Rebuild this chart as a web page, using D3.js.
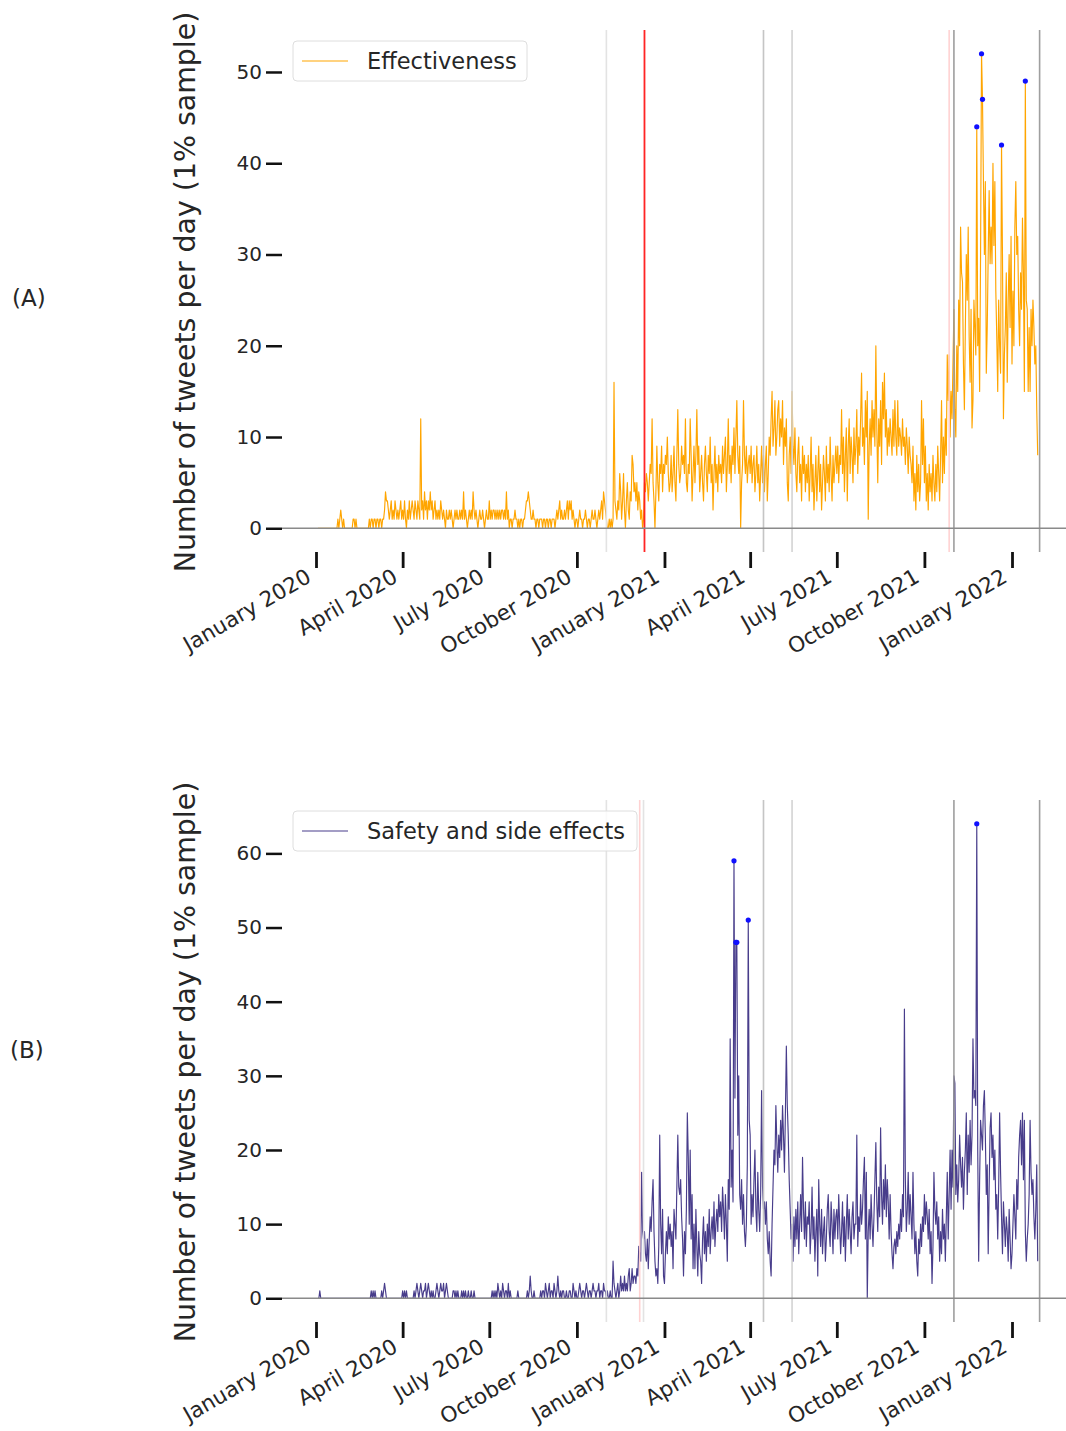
<!DOCTYPE html>
<html>
<head>
<meta charset="utf-8">
<script src="https://cdn.jsdelivr.net/npm/d3@7"></script>
<style>
  body { margin: 0; background: #fff; }
  svg text { font-family: "DejaVu Sans", sans-serif; fill: #262626; }
</style>
</head>
<body>
<script>
// daily tweet counts, 2020 starts on Jan 3, other years on Jan 1
var eff2020 = [
  0,0,0,0,0,0,0,0,0,0, 0,0,0,0,0,0,0,0,0,0, 0,1,0,1,2,1,0,1,0,
  0,0,0,0,0,0,0,0,1,1, 0,1,0,0,0,0,0,0,0,0, 0,0,0,0,0,1,0,1,1,
  0,1,1,0,1,1,0,1,1,0, 1,1,2,4,3,3,2,1,2,3, 1,2,1,3,2,1,2,1,2,3, 1,
  2,1,3,1,0,2,1,3,1,2, 3,2,1,3,2,1,3,2,1,12, 2,3,1,4,2,3,1,3,2,4,
  2,3,1,2,3,1,2,1,2,1, 3,2,1,2,1,0,2,1,1,2, 1,2,1,0,1,2,1,2,1,1, 2,
  1,2,1,4,1,2,1,0,1,2, 1,2,1,4,2,1,2,1,0,1, 2,1,1,2,1,0,1,2,1,1,
  3,1,2,1,2,2,1,2,1,2, 1,2,1,2,2,1,2,1,4,1, 2,0,1,1,0,1,1,2,1,1, 0,
  1,0,1,1,0,1,1,2,3,3, 4,3,2,1,1,2,1,1,0,1, 1,0,1,1,1,0,1,1,0,1, 1,
  0,1,1,0,1,1,1,0,1,2, 1,2,3,1,2,1,1,2,1,2, 3,1,3,2,3,1,2,1,0,1,
  1,0,1,2,1,1,0,1,1,2, 1,0,1,1,0,1,2,1,1,2, 1,0,1,2,1,2,3,1,4,3, 2,
  1,0,0,1,0,1,0,1,16,3, 2,1,3,2,6,4,1,3,6,2, 0,3,5,2,1,4,3,8,7,4,
  5,3,5,2,4,3,1,2,0,1, 5,4,6,5,3,5,7,6,12,5, 3,0,4,9,5,3,7,6,9,4, 7
];
var eff2021 = [
  6,8,7,10,6,4,5,8,4,6, 9,5,3,8,13,7,5,6,9,7, 8,6,12,5,4,7,6,12,8,3, 6,
  9,5,8,13,7,9,4,6,8,5, 3,7,9,6,4,8,6,10,5,7, 2,6,9,5,7,4,8,6,
  7,5,9,6,8,10,4,7,12,6, 8,5,9,7,11,6,10,14,8,6, 9,0,5,7,14,8,6,9,5,7, 8,
  6,9,5,7,8,4,6,9,5,7, 3,6,9,5,8,4,7,9,3,6, 10,8,12,15,9,11,14,8,10,13,
  14,9,12,10,14,7,11,9,12,5, 3,8,10,6,15,9,7,11,6,4, 8,10,5,7,3,9,6,8,4,7, 5,
  8,3,6,10,4,7,2,5,8,3, 6,9,4,7,2,5,8,6,3,9, 5,7,4,10,6,3,8,5,7,9,
  6,9,5,8,7,13,6,10,4,8, 11,3,9,12,6,10,8,5,11,7, 9,13,6,10,8,12,17,9,11,7, 14,
  10,15,1,9,12,8,14,10,13,9, 20,11,5,12,9,14,7,16,12,17, 10,13,8,11,9,12,10,8,13,9, 14,
  10,8,14,9,11,10,8,12,9,10, 7,11,9,6,10,8,7,5,9,3, 6,2,8,4,7,3,5,14,7,12,
  5,9,3,6,2,7,4,6,3,8, 5,3,7,4,9,6,3,8,14,5, 10,6,12,8,19,14,19,10,15,12, 18,
  24,13,10,20,15,25,20,33,28,27, 18,13,22,30,25,33,21,16,24,11, 14,25,22,19,44,20,23,15,30,52,
  47,38,30,38,17,22,30,37,29,33, 29,40,31,38,26,21,15,25,20,17, 42,30,12,19,22,28,16,25,30,22, 32
];
var eff2022 = [
  18,26,20,33,38,30,32,24,20,28, 24,34,28,15,49,25,24,15,22,15, 24,20,25,22,18,20,13,8
];

var safe2020 = [
  0,0,1,0,0,0,0,0,0,0, 0,0,0,0,0,0,0,0,0,0, 0,0,0,0,0,0,0,0,0,
  0,0,0,0,0,0,0,0,0,0, 0,0,0,0,0,0,0,0,0,0, 0,0,0,0,0,0,0,1,0,
  1,0,1,0,0,0,0,0,0,1, 0,1,2,1,0,0,0,0,0,0, 0,0,0,0,0,0,0,0,0,0, 0,
  1,0,1,0,1,0,0,0,0,0, 0,0,1,0,1,2,1,0,1,2, 1,0,1,1,2,0,1,2,1,0,
  1,0,1,0,0,1,2,1,0,1, 2,1,1,2,0,1,2,1,0,0, 0,0,0,1,1,0,1,0,1,0, 0,
  0,1,0,1,0,1,0,0,1,0, 0,1,0,0,1,0,0,0,0,0, 0,0,0,0,0,0,0,0,0,0,
  0,0,0,1,0,1,0,1,0,2, 1,0,1,0,2,1,0,1,1,0, 2,0,1,0,0,0,0,0,0,0, 1,
  0,0,0,0,0,0,0,0,0,1, 0,1,3,1,0,0,1,0,0,0, 0,0,0,1,0,1,1,0,2,1, 0,
  1,2,0,1,1,0,2,1,0,1, 3,1,0,1,0,1,1,0,0,1, 0,0,1,1,0,0,2,1,0,1,
  0,0,1,2,1,0,1,1,0,1, 2,1,0,1,1,0,1,2,1,1, 0,1,1,2,0,1,1,0,2,1, 1,
  0,1,0,0,1,0,0,5,2,1, 0,1,2,0,1,3,1,2,1,3, 1,2,1,3,4,1,2,4,2,3,
  3,2,4,3,7,6,5,17,9,8, 9,6,5,8,4,8,11,9,13,16, 9,5,3,4,2,7,22,10,6,12, 3
];
var safe2021 = [
  2,6,9,6,11,8,10,7,9,4, 12,10,8,15,22,15,14,16,11,8, 3,9,6,12,25,19,10,20,8,14, 4,
  10,4,12,7,3,9,6,5,2,8, 11,6,9,5,10,7,12,6,9,11, 8,13,7,10,12,9,14,11,
  13,9,15,12,8,14,10,5,16,12, 35,15,20,13,59,27,48,48,22,30, 14,12,16,10,14,9,7,10,18,51, 24,
  22,10,14,11,16,20,12,9,17,12, 9,14,28,15,12,13,10,13,8,6, 9,5,3,10,15,20,18,26,21,17,
  22,19,24,20,26,22,17,25,34,26, 22,16,12,8,10,5,11,7,12,8, 13,6,10,14,9,19,12,8,13,7, 11,
  10,13,6,9,15,8,11,5,9,12, 3,16,10,7,12,6,9,11,5,8, 12,14,9,7,13,10,6,12,8,11,
  12,8,14,10,6,9,13,7,11,5, 10,14,8,12,9,6,11,13,8,10, 10,22,7,11,9,14,10,12,16,19, 8,
  17,0,9,12,8,14,10,7,11,16, 21,13,9,15,11,23,14,10,16,12, 18,11,16,13,8,14,9,6,4,7, 8,
  6,9,7,10,8,12,9,14,11,39, 16,9,12,17,10,14,11,8,17,10, 6,9,5,3,8,6,10,7,11,9,
  14,10,13,11,8,12,6,9,2,7, 17,12,10,13,8,11,5,9,6,12, 8,10,5,11,17,8,14,20,12,20, 15,
  30,29,14,18,13,16,22,18,15,19, 12,17,20,25,14,22,17,24,18,22, 35,27,28,26,64,20,5,16,24,22,
  20,26,28,22,14,18,6,15,23,25, 19,22,16,20,12,14,8,15,25,17, 11,6,13,10,7,11,9,5,12,8, 4
];
var safe2022 = [
  6,10,14,11,8,16,12,19,22,24, 18,25,16,24,9,5,8,10,14,24, 17,14,16,11,8,12,18,5
];

var seriesNames = ["Effectiveness", "Safety and side effects"];
var panelLabels = ["(A)", "(B)"];
var tickMonths = ["2020-01-01", "2020-04-01", "2020-07-01", "2020-10-01", "2021-01-01",
                  "2021-04-01", "2021-07-01", "2021-10-01", "2022-01-01"];
var yTicksA = [0, 10, 20, 30, 40, 50];
var yTicksB = [0, 10, 20, 30, 40, 50, 60];
var peakThresholds = [41, 40];

var eventsA = ["2020-11-01", "2020-12-11", "2021-04-15", "2021-05-15", "2021-10-27", "2021-11-01", "2022-01-30"];
var eventKindsA = ["faint", "red", "mid", "light", "pink", "dark", "dark"];
var eventsB = ["2020-11-01", "2020-12-06", "2020-12-10", "2021-04-15", "2021-05-15", "2021-11-01", "2022-01-30"];
var eventKindsB = ["faint", "pink", "faint", "mid", "light", "dark", "dark"];

var eventStyle = {
  faint: "#e2e2e2",
  light: "#d2d2d2",
  mid:   "#c2c2c2",
  dark:  "#9a9a9a",
  red:   "#ff1a1a",
  pink:  "#ffd0d0"
};

var parse = d3.timeParse("%Y-%m-%d");

function daily(start, values) {
  var d0 = parse(start);
  return values.map(function(v, i) {
    return { date: d3.timeDay.offset(d0, i), value: v };
  });
}

var effectiveness = daily("2020-01-03", eff2020).concat(daily("2021-01-01", eff2021), daily("2022-01-01", eff2022));
var safety = daily("2020-01-03", safe2020).concat(daily("2021-01-01", safe2021), daily("2022-01-01", safe2022));

var svg = d3.select("body")
            .append("svg")
            .attr("width", 1066)
            .attr("height", 1431);

svg.append("rect")
   .attr("width", 1066)
   .attr("height", 1431)
   .attr("fill", "#fff");

var x = d3.scaleTime()
          .domain([parse("2020-01-01"), parse("2022-01-01")])
          .range([316, 1012]);

var axLeft = 282, axRight = 1066;

function drawPanel(p) {
  var max = d3.max(p.data, function(d) { return d.value; });
  var y = d3.scaleLinear()
            .domain([-max * 0.05, max * 1.05])
            .range([p.top + 522, p.top]);

  var g = svg.append("g");

  // data line
  var line = d3.line()
               .x(function(d) { return x(d.date); })
               .y(function(d) { return y(d.value); });

  g.append("path")
   .datum(p.data)
   .attr("d", line)
   .attr("fill", "none")
   .attr("stroke", p.color)
   .attr("stroke-width", 1.15)
   .attr("stroke-linejoin", "round");

  // event lines
  g.selectAll("line.event")
   .data(p.events)
   .enter()
   .append("line")
   .attr("class", "event")
   .attr("x1", function(d) { return x(parse(d)); })
   .attr("x2", function(d) { return x(parse(d)); })
   .attr("y1", p.top)
   .attr("y2", p.top + 522)
   .attr("stroke", function(d, i) { return eventStyle[p.kinds[i]]; })
   .attr("stroke-width", function(d, i) { return p.kinds[i] == "red" ? 1.8 : 1.6; })
   .attr("opacity", 0.95);

  // zero line
  g.append("line")
   .attr("x1", axLeft)
   .attr("x2", axRight)
   .attr("y1", y(0))
   .attr("y2", y(0))
   .attr("stroke", "#8a8a8a")
   .attr("stroke-width", 1.5);

  // peaks
  g.selectAll("circle.peak")
   .data(p.data.filter(function(d) { return d.value >= p.threshold; }))
   .enter()
   .append("circle")
   .attr("class", "peak")
   .attr("cx", function(d) { return x(d.date); })
   .attr("cy", function(d) { return y(d.value); })
   .attr("r", 2.6)
   .attr("fill", "#1010ff");

  // y axis
  var yAxis = g.append("g")
               .attr("transform", "translate(" + axLeft + ",0)")
               .call(d3.axisLeft(y).tickValues(p.yTicks).tickSize(16).tickPadding(4));
  yAxis.select(".domain").remove();
  yAxis.selectAll(".tick line")
       .attr("stroke", "#111")
       .attr("stroke-width", 2.5);
  yAxis.selectAll(".tick text")
       .attr("font-size", 20)
       .attr("fill", "#262626");

  // x axis
  var xAxis = g.append("g")
               .attr("transform", "translate(0," + (p.top + 522) + ")")
               .call(d3.axisBottom(x)
                       .tickValues(tickMonths.map(parse))
                       .tickSize(16)
                       .tickFormat(d3.timeFormat("%B %Y")));
  xAxis.select(".domain").remove();
  xAxis.selectAll(".tick line")
       .attr("stroke", "#111")
       .attr("stroke-width", 2.8);
  xAxis.selectAll(".tick text")
       .attr("font-size", 21.5)
       .attr("fill", "#262626")
       .attr("text-anchor", "end")
       .attr("x", 0)
       .attr("y", 0)
       .attr("dy", "0.75em")
       .attr("transform", "translate(-12,15) rotate(-30)");

  // y label
  g.append("text")
   .attr("transform", "translate(195," + (p.top + 262) + ") rotate(-90)")
   .attr("text-anchor", "middle")
   .attr("font-size", 28.4)
   .text("Number of tweets per day (1% sample)");

  // panel label
  g.append("text")
   .attr("x", p.labelX)
   .attr("y", p.labelY)
   .attr("font-size", 23)
   .attr("fill", "#333")
   .text(p.label);

  // legend
  var lg = g.append("g")
            .attr("transform", "translate(293," + (p.top + 11) + ")");
  lg.append("rect")
    .attr("x", 0)
    .attr("y", 0)
    .attr("width", p.legendWidth)
    .attr("height", 40)
    .attr("rx", 4)
    .attr("fill", "#fff")
    .attr("fill-opacity", 0.8)
    .attr("stroke", "#dedede")
    .attr("stroke-width", 1);
  lg.append("line")
    .attr("x1", 9)
    .attr("x2", 55)
    .attr("y1", 20)
    .attr("y2", 20)
    .attr("stroke", p.color)
    .attr("stroke-width", 1.2);
  lg.append("text")
    .attr("x", 74)
    .attr("y", 20)
    .attr("dy", "0.36em")
    .attr("font-size", 22.5)
    .text(p.name);
}

drawPanel({
  data: effectiveness,
  color: "orange",
  top: 30,
  yTicks: yTicksA,
  events: eventsA,
  kinds: eventKindsA,
  threshold: peakThresholds[0],
  name: seriesNames[0],
  legendWidth: 234,
  label: panelLabels[0],
  labelX: 12,
  labelY: 306
});

drawPanel({
  data: safety,
  color: "darkslateblue",
  top: 800,
  yTicks: yTicksB,
  events: eventsB,
  kinds: eventKindsB,
  threshold: peakThresholds[1],
  name: seriesNames[1],
  legendWidth: 344,
  label: panelLabels[1],
  labelX: 10,
  labelY: 1058
});
</script>
</body>
</html>
